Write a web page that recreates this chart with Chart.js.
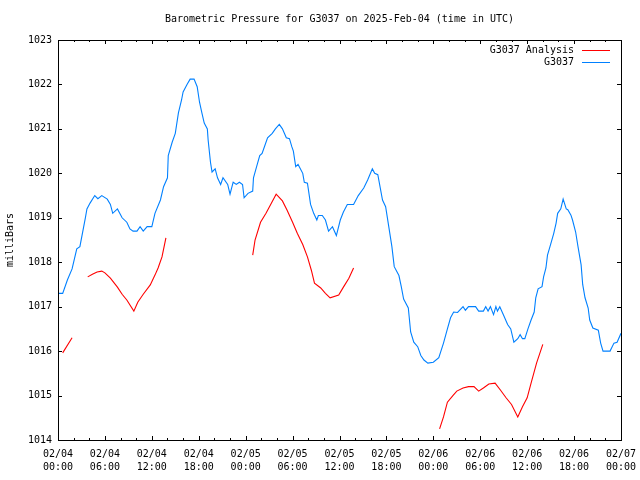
<!DOCTYPE html>
<html>
<head>
<meta charset="utf-8">
<title>Barometric Pressure G3037</title>
<script src="https://cdn.jsdelivr.net/npm/chart.js@4.4.1/dist/chart.umd.min.js"></script>
<style>
    html, body { margin: 0; padding: 0; background: #fff; }
    canvas { display: block; }
</style>
</head>
<body>
<canvas id="pressureChart" width="640" height="480"></canvas>
<script>
// hours since 02/04 00:00 UTC
var stationHours = [0, 0.6, 1.2, 1.8, 2.4, 2.8, 3.5, 3.7, 4.1, 4.7, 5.1, 5.6, 6.3, 6.7, 7.0, 7.6, 8.2, 8.8, 9.2, 9.6,
    10.1, 10.5, 10.9, 11.4, 12.0, 12.4, 13.1, 13.5, 14.0, 14.1, 14.6, 15.0, 15.4, 15.8, 16.0, 16.5, 16.9, 17.4, 17.8, 18.1,
    18.4, 18.7, 19.1, 19.2, 19.5, 19.7, 20.1, 20.4, 20.8, 21.1, 21.7, 22.0, 22.4, 22.8, 23.2, 23.6, 23.8, 24.3, 24.9, 25.0,
    25.4, 25.8, 26.1, 26.5, 26.8, 27.4, 27.8, 28.3, 28.7, 29.2, 29.6, 29.9, 30.1, 30.4, 30.7, 31.3, 31.5, 31.9, 32.3, 32.7,
    33.1, 33.3, 33.8, 34.2, 34.6, 35.1, 35.6, 36.1, 36.5, 37.0, 37.8, 38.4, 39.1, 39.6, 40.2, 40.5, 40.9, 41.5, 41.9, 42.3,
    42.7, 43.0, 43.6, 43.9, 44.2, 44.8, 45.1, 45.5, 46.0, 46.4, 46.8, 47.3, 48.0, 48.7, 49.3, 49.8, 50.2, 50.6, 51.1, 51.8,
    52.1, 52.5, 53.4, 53.8, 54.4, 54.7, 55.0, 55.3, 55.7, 56.0, 56.2, 56.5, 57.0, 57.5, 57.9, 58.3, 58.8, 59.1, 59.4, 59.7,
    60.1, 60.5, 60.9, 61.1, 61.4, 61.9, 62.1, 62.4, 62.6, 63.0, 63.4, 63.7, 63.9, 64.3, 64.6, 65.0, 65.2, 65.6, 65.8, 66.2,
    66.5, 66.9, 67.1, 67.4, 67.8, 68.0, 68.4, 69.1, 69.4, 69.7, 70.6, 71.1, 71.5, 72.0];
var stationValues = [1017.3, 1017.3, 1017.6, 1017.85, 1018.3, 1018.35, 1019.0, 1019.2, 1019.33, 1019.5, 1019.43, 1019.5, 1019.42, 1019.3, 1019.1, 1019.2, 1019.0, 1018.9, 1018.75, 1018.7,
    1018.7, 1018.8, 1018.7, 1018.8, 1018.8, 1019.1, 1019.4, 1019.7, 1019.9, 1020.4, 1020.7, 1020.9, 1021.36, 1021.65, 1021.83, 1022.0, 1022.12, 1022.12, 1021.95, 1021.6,
    1021.36, 1021.13, 1021.0, 1020.75, 1020.25, 1020.03, 1020.1, 1019.9, 1019.75, 1019.9, 1019.75, 1019.53, 1019.8, 1019.75, 1019.8, 1019.75, 1019.45, 1019.55, 1019.6, 1019.9,
    1020.15, 1020.4, 1020.45, 1020.65, 1020.8, 1020.9, 1021.0, 1021.1, 1021.0, 1020.8, 1020.78, 1020.6, 1020.5, 1020.15, 1020.2, 1020.0, 1019.8, 1019.78, 1019.3, 1019.1,
    1018.95, 1019.05, 1019.05, 1018.95, 1018.7, 1018.8, 1018.6, 1018.95, 1019.13, 1019.3, 1019.3, 1019.5, 1019.67, 1019.85, 1020.1, 1020.0, 1019.97, 1019.4, 1019.25, 1018.8,
    1018.35, 1017.9, 1017.7, 1017.45, 1017.17, 1016.97, 1016.43, 1016.2, 1016.1, 1015.9, 1015.8, 1015.73, 1015.75, 1015.85, 1016.18, 1016.5, 1016.75, 1016.88, 1016.87, 1017.0,
    1016.92, 1017.0, 1017.0, 1016.9, 1016.9, 1017.0, 1016.9, 1017.0, 1016.82, 1017.0, 1016.9, 1017.0, 1016.8, 1016.6, 1016.5, 1016.2, 1016.28, 1016.37, 1016.28, 1016.28,
    1016.5, 1016.7, 1016.88, 1017.2, 1017.4, 1017.45, 1017.67, 1017.87, 1018.16, 1018.4, 1018.65, 1018.88, 1019.1, 1019.2, 1019.42, 1019.2, 1019.18, 1019.06, 1018.95, 1018.68,
    1018.35, 1017.94, 1017.5, 1017.2, 1016.97, 1016.7, 1016.52, 1016.47, 1016.18, 1016.0, 1016.0, 1016.18, 1016.2, 1016.4];

// analysis runs, null breaks the line between runs
var analysisHours = [0.6, 1.8, 2.8,
    3.8, 4.4, 5.0, 5.6, 6.0, 6.7, 7.6, 8.2, 8.8, 9.7, 10.2, 10.9, 11.8, 12.4, 12.8, 13.3, 13.8, 19.0,
    24.9, 25.2, 25.9, 26.6, 27.3, 27.9, 28.7, 29.3, 30.0, 30.6, 31.3, 31.9, 32.4, 32.8, 33.6, 34.2, 34.8, 35.9, 36.5, 37.2, 37.8, 43.0,
    48.8, 49.3, 49.8, 50.5, 51.0, 51.8, 52.5, 53.2, 53.8, 54.4, 55.1, 55.9, 56.6, 57.3, 58.0, 58.8, 59.4, 60.0, 60.5, 61.2, 62.0];
var analysisValues = [1015.96, 1016.3, null,
    1017.67, 1017.73, 1017.78, 1017.8, 1017.76, 1017.64, 1017.44, 1017.28, 1017.15, 1016.9, 1017.1, 1017.28, 1017.49, 1017.71, 1017.87, 1018.12, 1018.55, null,
    1018.16, 1018.5, 1018.9, 1019.1, 1019.33, 1019.53, 1019.38, 1019.17, 1018.9, 1018.65, 1018.4, 1018.12, 1017.82, 1017.53, 1017.42, 1017.3, 1017.2, 1017.26, 1017.44, 1017.64, 1017.87, null,
    1014.25, 1014.52, 1014.85, 1015.0, 1015.1, 1015.17, 1015.2, 1015.2, 1015.1, 1015.17, 1015.26, 1015.28, 1015.12, 1014.95, 1014.8, 1014.52, 1014.75, 1014.95, 1015.28, 1015.73, 1016.15];

var yMin = 1014, yMax = 1023;
var xMin = 0, xMax = 72;
var dayLabels = ['02/04', '02/05', '02/06', '02/07'];

;(function(win){
    var FONT = '"DejaVu Sans Mono", "Liberation Mono", monospace';

    function toPoints(xs, ys){
        var pts = [];
        for(var i = 0; i < xs.length; i++){
            pts.push({x: xs[i], y: ys[i]});
        }
        return pts;
    }

    // gnuplot like frame: box with inward ticks on all four sides
    var framePlugin = {
        id: 'frame',
        afterDatasetsDraw: function(chart){
            var ctx = chart.ctx;
            var a = chart.chartArea;
            var xs = chart.scales.x, ys = chart.scales.y;
            ctx.save();
            ctx.strokeStyle = '#000';
            ctx.lineWidth = 1;
            ctx.beginPath();
            var h, px, v, py, len;
            for(h = xMin; h <= xMax; h += 2){
                px = Math.round(xs.getPixelForValue(h)) + 0.5;
                len = (h % 6 === 0) ? 4 : 2;
                ctx.moveTo(px, a.bottom); ctx.lineTo(px, a.bottom - len);
                ctx.moveTo(px, a.top); ctx.lineTo(px, a.top + len);
            }
            for(v = yMin; v <= yMax; v++){
                py = Math.round(ys.getPixelForValue(v)) + 0.5;
                ctx.moveTo(a.left, py); ctx.lineTo(a.left + 4, py);
                ctx.moveTo(a.right, py); ctx.lineTo(a.right - 4, py);
            }
            ctx.stroke();
            ctx.strokeRect(Math.round(a.left) + 0.5, Math.round(a.top) + 0.5,
                Math.round(a.right - a.left), Math.round(a.bottom - a.top));

            // key in the top right corner, text first then line sample
            ctx.font = '10px ' + FONT;
            ctx.fillStyle = '#000';
            ctx.textAlign = 'right';
            ctx.textBaseline = 'middle';
            chart.data.datasets.forEach(function(ds, i){
                var ky = a.top + 10 + i * 12;
                ctx.fillText(ds.label, a.right - 47, ky);
                ctx.beginPath();
                ctx.strokeStyle = ds.borderColor;
                ctx.moveTo(a.right - 39, ky + 0.5);
                ctx.lineTo(a.right - 11, ky + 0.5);
                ctx.stroke();
            });
            ctx.restore();
        }
    };

    var main = {
        init: function(){
            this.createChart();
        },

        createChart: function(){
            var el = document.getElementById('pressureChart');
            this.chart = new Chart(el, {
                type: 'line',
                data: {
                    datasets: [
                        {
                            label: 'G3037 Analysis',
                            data: toPoints(analysisHours, analysisValues),
                            borderColor: '#ff0000',
                            borderWidth: 1.1,
                            pointRadius: 0,
                            tension: 0,
                            spanGaps: false,
                            fill: false
                        },
                        {
                            label: 'G3037',
                            data: toPoints(stationHours, stationValues),
                            borderColor: '#0080ff',
                            borderWidth: 1.1,
                            pointRadius: 0,
                            tension: 0,
                            fill: false
                        }
                    ]
                },
                options: {
                    responsive: false,
                    animation: false,
                    layout: { padding: { left: 0, right: 19, top: 0, bottom: 0 } },
                    plugins: {
                        legend: { display: false },
                        tooltip: { enabled: false },
                        title: {
                            display: true,
                            text: 'Barometric Pressure for G3037 on 2025-Feb-04 (time in UTC)',
                            color: '#000',
                            fullSize: false,
                            font: { family: FONT, size: 10, weight: 'normal', lineHeight: 1.2 },
                            padding: { top: 13, bottom: 15 }
                        }
                    },
                    scales: {
                        x: {
                            type: 'linear',
                            min: xMin,
                            max: xMax,
                            grid: { display: false, drawTicks: false },
                            border: { display: false },
                            afterFit: function(scale){
                                scale.height = 40;
                                scale.paddingLeft = 0;
                                scale.paddingRight = 0;
                            },
                            ticks: {
                                stepSize: 6,
                                padding: 8,
                                maxRotation: 0,
                                autoSkip: false,
                                color: '#000',
                                font: { family: FONT, size: 10, lineHeight: 1.3 },
                                callback: function(value){
                                    var day = dayLabels[Math.floor(value / 24)];
                                    var hr = value % 24;
                                    return [day, (hr < 10 ? '0' : '') + hr + ':00'];
                                }
                            }
                        },
                        y: {
                            min: yMin,
                            max: yMax,
                            grid: { display: false, drawTicks: false },
                            border: { display: false },
                            afterFit: function(scale){ scale.width = 58; },
                            title: {
                                display: true,
                                text: 'milliBars',
                                color: '#000',
                                font: { family: FONT, size: 10, lineHeight: 1.2 },
                                padding: { top: 4, bottom: 0 }
                            },
                            ticks: {
                                stepSize: 1,
                                padding: 6,
                                color: '#000',
                                font: { family: FONT, size: 10 },
                                callback: function(value){ return String(value); }
                            }
                        }
                    }
                },
                plugins: [framePlugin]
            });
        }
    };

    main.init();
})(window);
</script>
</body>
</html>
